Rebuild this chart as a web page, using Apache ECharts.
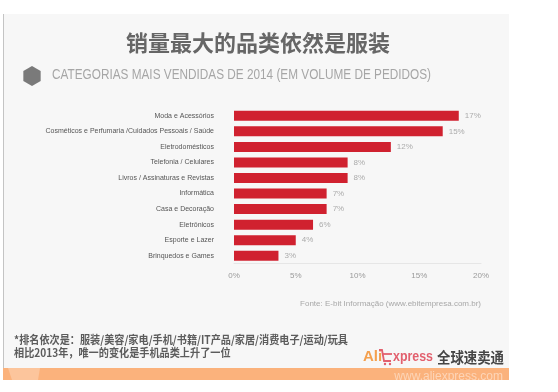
<!DOCTYPE html>
<html>
<head>
<meta charset="utf-8">
<script src="https://cdn.jsdelivr.net/npm/echarts@6/dist/echarts.min.js"></script>
<style>html,body{margin:0;padding:0;background:#fff;}#c{width:558px;height:392px;}</style>
</head>
<body>
<div id="c"></div>
<script>
var categories = ['Moda e Acessórios','Cosméticos e Perfumaria /Cuidados Pessoais / Saúde','Eletrodomésticos','Telefonia / Celulares','Livros / Assinaturas e Revistas','Informática','Casa e Decoração','Eletrônicos','Esporte e Lazer','Brinquedos e Games'];
var barValues = [18.2, 16.9, 12.7, 9.2, 9.2, 7.5, 7.5, 6.4, 5.0, 3.6];
var valueLabels = ['17%','15%','12%','8%','8%','7%','7%','6%','4%','3%'];
var xTickLabels = ['0%','5%','10%','15%','20%'];
var titleText = '销量最大的品类依然是服装';
var subtitleText = 'CATEGORIAS MAIS VENDIDAS DE 2014 (EM VOLUME DE PEDIDOS)';
var sourceText = 'Fonte: E-bit Informação (www.ebitempresa.com.br)';
var noteLine1 = '*排名依次是：服装/美容/家电/手机/书籍/IT产品/家居/消费电子/运动/玩具';
var noteLine2 = '相比2013年，唯一的变化是手机品类上升了一位';

function measure(text, font) {
  var cv = document.createElement('canvas').getContext('2d');
  cv.font = font;
  return cv.measureText(text).width;
}
function fitScale(text, font, target) {
  return target / measure(text, font);
}

var subFont = '14px "Liberation Sans"';
var subScale = fitScale(subtitleText, subFont, 379);
var note1Font = 'bold 11px "Noto Sans CJK SC"';
var note1Scale = fitScale(noteLine1, note1Font, 334);
var xpFont = 'bold 15px "Liberation Sans"';
var xpScale = fitScale('xpress', xpFont, 40);
var cnFont = 'bold 15px "Noto Sans CJK SC"';
var cnScale = fitScale('全球速卖通', cnFont, 67);

var hex = [];
for (var i = 0; i < 6; i++) {
  var a = Math.PI / 2 + i * Math.PI / 3;
  hex.push([32 + 10 * Math.cos(a), 76 - 10 * Math.sin(a)]);
}

var chart = echarts.init(document.getElementById('c'), null, {renderer: 'canvas'});
chart.setOption({
  backgroundColor: '#ffffff',
  animation: false,
  grid: {left: 234, right: 77, top: 108, bottom: 128.5, containLabel: false},
  xAxis: {
    type: 'value', min: 0, max: 20, interval: 5,
    axisLine: {show: true, lineStyle: {color: '#e6e6e6', width: 1}},
    axisTick: {show: false},
    splitLine: {show: false},
    axisLabel: {
      margin: 8, color: '#9a9a9a', fontSize: 8, fontFamily: 'Liberation Sans',
      formatter: function (v) { return xTickLabels[Math.round(v / 5)]; }
    }
  },
  yAxis: {
    type: 'category', data: categories, inverse: true,
    axisLine: {show: false}, axisTick: {show: false},
    axisLabel: {margin: 20, color: '#555', fontSize: 7, fontFamily: 'Liberation Sans'}
  },
  series: [{
    type: 'bar', data: barValues, barWidth: 10,
    itemStyle: {color: '#d0212f'},
    label: {
      show: true, position: 'right', distance: 6, color: '#ababab', fontSize: 8,
      fontFamily: 'Liberation Sans',
      formatter: function (p) { return valueLabels[p.dataIndex]; }
    }
  }],
  graphic: [
    {type: 'rect', z: -10, silent: true, shape: {x: 3, y: 14, width: 506, height: 366}, style: {fill: '#f7f7f7'}},
    {type: 'line', z: -9, silent: true, shape: {x1: 3.5, y1: 14, x2: 3.5, y2: 380}, style: {stroke: '#c4c4c4', lineWidth: 1}},
    {type: 'text', x: 258, y: 43, style: {text: titleText, fill: '#666666', font: 'bold 22px "Noto Sans CJK SC"', align: 'center', verticalAlign: 'middle'}},
    {type: 'polygon', shape: {points: hex}, style: {fill: '#7a7a7a'}},
    {type: 'text', x: 52, y: 75.5, scaleX: subScale, style: {text: subtitleText, fill: '#a6a6a6', font: subFont, align: 'left', verticalAlign: 'middle'}},
    {type: 'text', x: 481, y: 304, style: {text: sourceText, fill: '#a8a8a8', font: '8px "Liberation Sans"', align: 'right', verticalAlign: 'middle'}},
    {type: 'text', x: 14, y: 340, scaleX: note1Scale, style: {text: noteLine1, fill: '#5c5c5c', font: note1Font, align: 'left', verticalAlign: 'middle'}},
    {type: 'text', x: 14, y: 352.5, scaleX: note1Scale, style: {text: noteLine2, fill: '#5c5c5c', font: note1Font, align: 'left', verticalAlign: 'middle'}},
    {type: 'text', x: 363, y: 357, style: {text: 'Ali', fill: '#f4a04e', font: 'bold 15px "Liberation Sans"', align: 'left', verticalAlign: 'middle'}},
    {type: 'polyline', shape: {points: [[379, 350], [382, 350], [384, 361], [391, 361]]}, style: {stroke: '#e2606e', lineWidth: 1.8, fill: null}},
    {type: 'line', shape: {x1: 382, y1: 354, x2: 392, y2: 354}, style: {stroke: '#e2606e', lineWidth: 1.8}},
    {type: 'circle', shape: {cx: 385, cy: 364, r: 1.2}, style: {fill: '#e2606e'}},
    {type: 'circle', shape: {cx: 390, cy: 364, r: 1.2}, style: {fill: '#e2606e'}},
    {type: 'text', x: 393, y: 357, scaleX: xpScale, style: {text: 'xpress', fill: '#e2606e', font: xpFont, align: 'left', verticalAlign: 'middle'}},
    {type: 'text', x: 437, y: 357, scaleX: cnScale, style: {text: '全球速卖通', fill: '#454545', font: cnFont, align: 'left', verticalAlign: 'middle'}},
    {type: 'rect', shape: {x: 3, y: 368, width: 506, height: 12}, style: {fill: '#fbb27c'}},
    {type: 'polygon', shape: {points: [[8, 368], [40, 368], [38, 380], [12, 380]]}, style: {fill: '#fcc59c'}},
    {type: 'text', x: 503, y: 377, style: {text: 'www.aliexpress.com', fill: 'rgba(255,255,255,0.45)', font: '12px "Liberation Sans"', align: 'right', verticalAlign: 'middle'}}
  ]
});
</script>
</body>
</html>
